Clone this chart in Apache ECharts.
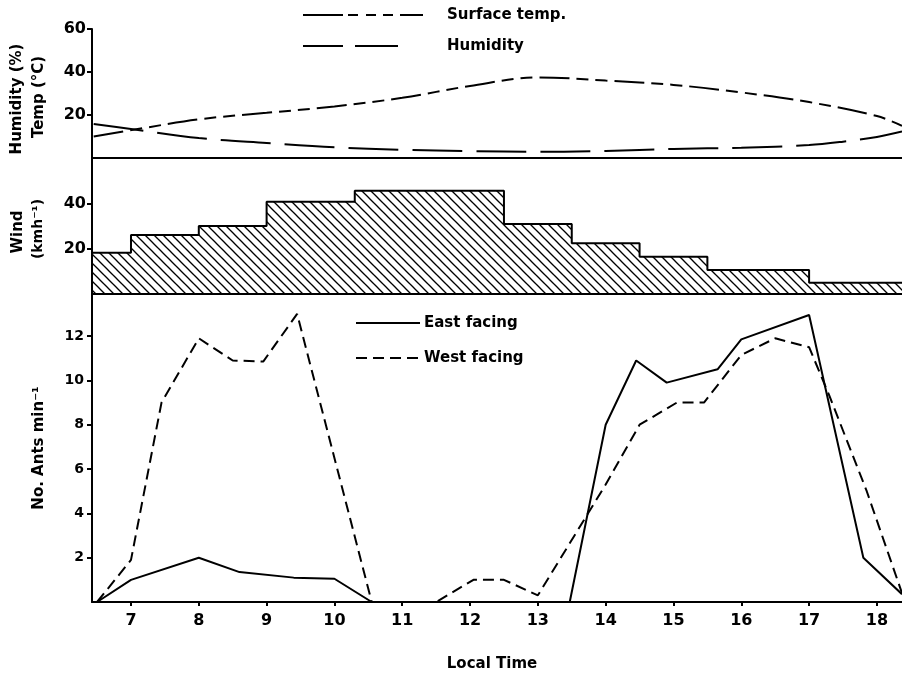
<!DOCTYPE html>
<html>
<head>
<meta charset="utf-8">
<script src="https://cdn.jsdelivr.net/npm/echarts@6/dist/echarts.min.js"></script>
<style>
html,body{margin:0;padding:0;background:#fff;}
#chart{width:902px;height:676px;}
</style>
</head>
<body>
<div id="chart"></div>
<script>
// ---- data ----
const hourTicks = [7, 8, 9, 10, 11, 12, 13, 14, 15, 16, 17, 18];
const topTicks = [20, 40, 60];
const windTicks = [20, 40];
const antTicks = [2, 4, 6, 8, 10, 12];

const tempT = [6.45, 7.2, 8, 9, 10, 11, 12, 13, 14, 15, 16, 17, 18, 18.37];
const tempV = [10, 14, 18, 21, 24, 28, 33.5, 37.5, 36, 34, 30.5, 26, 19.5, 15];

const humT = [6.45, 7, 8, 9, 10, 11, 12, 13, 14, 15, 16, 17, 17.5, 18, 18.37];
const humV = [15.8, 13.5, 9.3, 7, 5, 3.8, 3.2, 2.9, 3.3, 4.2, 4.8, 6, 7.6, 9.8, 12.3];

const windT = [6.425, 7, 8, 9, 10.3, 12.5, 13.5, 14.5, 15.5, 17, 18.37];
const windV = [18.2, 26, 30, 40.7, 45.6, 30.9, 22.4, 16.5, 10.6, 5.0, 5.0];

const eastT = [6.5, 7, 8, 8.6, 9.4, 10, 10.55, 13.47, 14, 14.45, 14.9, 15.65, 16, 17, 17.8, 18.37];
const eastV = [0, 1, 2, 1.35, 1.1, 1.05, 0, 0, 8, 10.9, 9.9, 10.5, 11.85, 12.95, 2, 0.35];

const westT = [6.5, 7, 7.45, 8, 8.5, 8.95, 9.45, 10.55, 11.5, 12.05, 12.5, 13, 14, 14.5, 15.05, 15.45, 16, 16.5, 17, 17.3, 17.85, 18.37];
const westV = [0, 1.9, 9, 11.9, 10.9, 10.85, 13, 0, 0, 1.0, 1.0, 0.3, 5.3, 8, 9, 9, 11.15, 11.9, 11.5, 9.3, 5, 0.4];

const zip = (a, b) => a.map((v, i) => [v, b[i]]);

// hatch pattern
const pat = document.createElement('canvas');
pat.width = 9; pat.height = 9;
const pc = pat.getContext('2d');
pc.strokeStyle = '#000';
pc.lineWidth = 1.3;
[-9, 0, 9].forEach(function (x0) {
  pc.beginPath(); pc.moveTo(x0 - 1, -1); pc.lineTo(x0 + 10, 10); pc.stroke();
});

const FONT = 'DejaVu Sans';
const XMIN = 6.425, XMAX = 18.37;

function xAx(gi, bottom) {
  return {
    type: 'value', gridIndex: gi, min: XMIN, max: XMAX,
    axisLine: { show: true, onZero: false, lineStyle: { color: '#000', width: 2 } },
    axisTick: bottom ? { show: true, customValues: hourTicks, length: 4, lineStyle: { color: '#000', width: 2 } } : { show: false },
    axisLabel: bottom ? { show: true, customValues: hourTicks, margin: 11, color: '#000', fontFamily: FONT, fontWeight: 'bold', fontSize: 16 } : { show: false },
    splitLine: { show: false }
  };
}
function yAx(gi, max, ticks, fs, margin) {
  return {
    type: 'value', gridIndex: gi, min: 0, max: max,
    axisLine: { show: true, lineStyle: { color: '#000', width: 2 } },
    axisTick: { show: true, customValues: ticks, length: 5, lineStyle: { color: '#000', width: 2 } },
    axisLabel: { show: true, customValues: ticks, margin: margin, color: '#000', fontFamily: FONT, fontWeight: 'bold', fontSize: fs },
    splitLine: { show: false }
  };
}

const chart = echarts.init(document.getElementById('chart'), null, { renderer: 'canvas' });

function txt(x, y, s, fs, rot) {
  return {
    type: 'text', x: x, y: y, rotation: rot || 0,
    style: { text: s, fill: '#000', font: 'bold ' + fs + 'px "' + FONT + '"', textAlign: 'center', textVerticalAlign: 'middle' }
  };
}
function ltxt(x, y, s) {
  return { type: 'text', x: x, y: y, style: { text: s, fill: '#000', font: 'bold 15px "' + FONT + '"', textAlign: 'left', textVerticalAlign: 'middle' } };
}
function seg(x1, y1, x2, y2, dash) {
  return { type: 'line', shape: { x1: x1, y1: y1, x2: x2, y2: y2 }, style: { stroke: '#000', lineWidth: 2, lineDash: dash || null } };
}

const option = {
  animation: false,
  backgroundColor: '#fff',
  grid: [
    { left: 92, width: 810, top: 29, height: 129 },
    { left: 92, width: 810, top: 159, height: 135 },
    { left: 92, width: 810, top: 294, height: 308 }
  ],
  xAxis: [xAx(0, false), xAx(1, false), xAx(2, true)],
  yAxis: [yAx(0, 60, topTicks, 16, 6), yAx(1, 59.6, windTicks, 16, 6), yAx(2, 13.9, antTicks, 14, 8)],
  series: [
    { type: 'line', xAxisIndex: 0, yAxisIndex: 0, data: zip(tempT, tempV), smooth: 0.35, symbol: 'none',
      lineStyle: { color: '#000', width: 2, type: [30, 7, 12, 7, 12, 7] } },
    { type: 'line', xAxisIndex: 0, yAxisIndex: 0, data: zip(humT, humV), smooth: 0.35, symbol: 'none',
      lineStyle: { color: '#000', width: 2, type: [50, 14] } },
    { type: 'line', xAxisIndex: 1, yAxisIndex: 1, data: zip(windT, windV), step: 'end', symbol: 'none',
      lineStyle: { color: '#000', width: 2 },
      areaStyle: { color: { image: pat, repeat: 'repeat' }, opacity: 1 } },
    { type: 'line', xAxisIndex: 2, yAxisIndex: 2, data: zip(eastT, eastV), symbol: 'none',
      lineStyle: { color: '#000', width: 2 } },
    { type: 'line', xAxisIndex: 2, yAxisIndex: 2, data: zip(westT, westV), symbol: 'none',
      lineStyle: { color: '#000', width: 2, type: [11, 6] } }
  ],
  graphic: [
    txt(17, 99, 'Humidity (%)', 15, Math.PI / 2),
    txt(39, 97, 'Temp (°C)', 15, Math.PI / 2),
    txt(18, 232, 'Wind', 15, Math.PI / 2),
    txt(38, 229, '(kmh⁻¹)', 14, Math.PI / 2),
    txt(39, 448, 'No. Ants min⁻¹', 15, Math.PI / 2),
    txt(492, 664, 'Local Time', 15, 0),
    // top legend
    seg(303, 15, 343, 15), seg(348, 15, 358, 15), seg(366, 15, 376, 15), seg(383, 15, 393, 15), seg(400, 15, 423, 15),
    ltxt(447, 15, 'Surface temp.'),
    seg(303, 46, 343, 46), seg(355, 46, 398, 46),
    ltxt(447, 46, 'Humidity'),
    // bottom legend
    seg(356, 323, 420, 323),
    ltxt(424, 323, 'East facing'),
    seg(356, 358, 420, 358, [11, 6]),
    ltxt(424, 358, 'West facing')
  ]
};
chart.setOption(option);
</script>
</body>
</html>
